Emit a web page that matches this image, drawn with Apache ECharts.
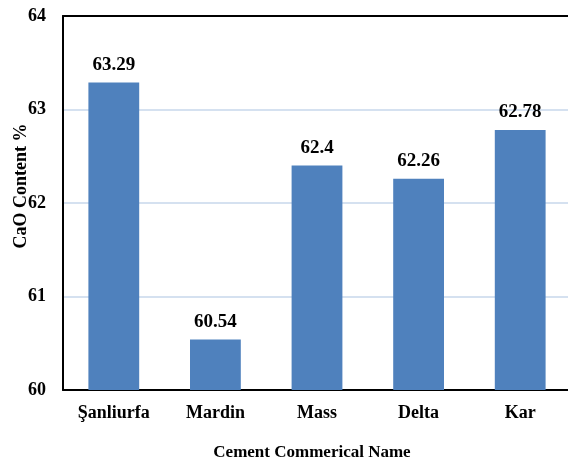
<!DOCTYPE html>
<html><head><meta charset="utf-8">
<script src="https://cdn.jsdelivr.net/npm/echarts@6/dist/echarts.min.js"></script>
<style>html,body{margin:0;padding:0;background:#fff}#c{width:568px;height:464px}</style>
</head><body><div id="c"></div>
<script>
const categories = ['Şanliurfa', 'Mardin', 'Mass', 'Delta', 'Kar'];
const cao = [63.29, 60.54, 62.4, 62.26, 62.78];
const yTicks = [60, 61, 62, 63, 64];

const font = '"Liberation Serif", "Times New Roman", serif';
const chart = echarts.init(document.getElementById('c'));
chart.setOption({
  animation: false,
  grid: { left: 63, top: 16, width: 508, height: 374, containLabel: false, outerBoundsMode: 'none' },
  xAxis: [{
    type: 'category', data: categories,
    axisLine: { lineStyle: { color: '#000', width: 2 } },
    axisTick: { show: false },
    axisLabel: { color: '#000', fontFamily: font, fontWeight: 'bold', fontSize: 18, margin: 14 },
    name: 'Cement Commerical Name', nameLocation: 'middle', nameGap: 54, nameMoveOverlap: false,
    nameTextStyle: { color: '#000', fontFamily: font, fontWeight: 'bold', fontSize: 17, padding: [0, 0, 0, -10] }
  }, {
    type: 'category', data: categories, position: 'top',
    axisLine: { lineStyle: { color: '#000', width: 2 } },
    axisTick: { show: false }, axisLabel: { show: false }
  }],
  yAxis: {
    type: 'value', min: yTicks[0], max: yTicks[yTicks.length - 1], interval: 1,
    axisLine: { show: true, lineStyle: { color: '#000', width: 2 } },
    axisTick: { show: false },
    splitLine: { show: true, lineStyle: { color: '#D5E1F0', width: 2 } },
    axisLabel: { color: '#000', fontFamily: font, fontWeight: 'bold', fontSize: 18, margin: 17 },
    name: 'CaO Content %', nameLocation: 'middle', nameGap: 33, nameMoveOverlap: false,
    nameTextStyle: { color: '#000', fontFamily: font, fontWeight: 'bold', fontSize: 18, padding: [0, 0, 0, 34] }
  },
  series: [{
    type: 'bar', data: cao, barWidth: '50%', xAxisIndex: 0,
    itemStyle: { color: '#4F81BD' },
    label: { show: true, position: 'top', distance: 8, color: '#000', fontFamily: font, fontWeight: 'bold', fontSize: 19 }
  }]
});
</script></body></html>
